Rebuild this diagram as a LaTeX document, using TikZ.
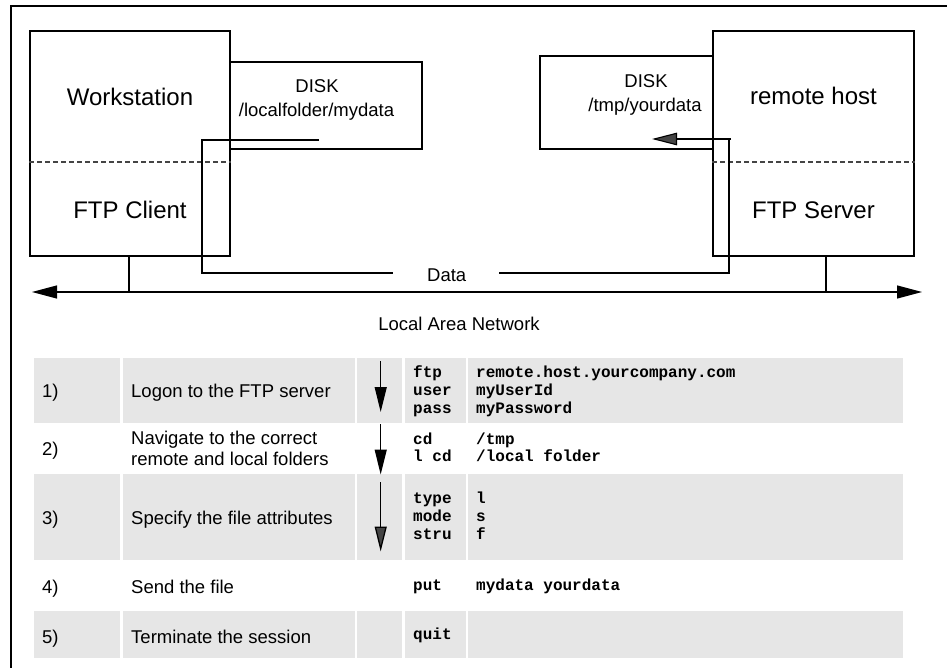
\documentclass[tikz,border=0pt]{standalone}
\usepackage{fontspec}
\setmainfont{Liberation Sans}
\newfontfamily\codefont{Liberation Mono}
\usetikzlibrary{arrows.meta}
\definecolor{cellgray}{HTML}{E6E6E6}
\definecolor{dashgray}{HTML}{444444}
\begin{document}
\begin{tikzpicture}[x=1pt,y=-1pt,
  box/.style={draw, line width=1.3pt, inner sep=0pt},
  big/.style={font=\fontsize{24}{28}\selectfont, inner sep=0pt, anchor=base},
  small/.style={font=\fontsize{18.5}{22}\selectfont, inner sep=0pt, anchor=base},
  lbl/.style={font=\fontsize{18.5}{22}\selectfont, inner sep=0pt, anchor=base west},
  code/.style={font=\codefont\bfseries\fontsize{16}{18}\selectfont, inner sep=0pt, anchor=base west},
  cell/.style={fill=cellgray, draw=none, inner sep=0pt, anchor=north west},
  wire/.style={line width=1.1pt},
  sep/.style={dash pattern=on 5pt off 3pt, line width=1.2pt, draw=dashgray},
  net/.style={line width=1.2pt, {Triangle[length=25pt,width=13pt]}-{Triangle[length=25pt,width=13pt]}},
  stepdown/.style={line width=1.3pt, -{Triangle[length=25pt,width=12pt]}},
]
\fill[white] (0,0) rectangle (947,668);
\useasboundingbox (0,0) rectangle (947,668);

% outer frame (left and top edges)
\coordinate (fbl) at (11,668);
\coordinate (ftl) at (11,6);
\coordinate (ftr) at (947,6);
\draw[line width=1.4pt] (fbl) -- (ftl) -- (ftr);

% table cells
\foreach \yy/\hh/\r in {358/64.5/1, 474/86/3, 611/47/5}{
  \foreach \xx/\ww/\c in {34/86/1, 123/232/2, 357/45/3, 405/61/4, 468/435/5}{
    \node[cell, minimum width=\ww pt, minimum height=\hh pt] (cell\r\c) at (\xx,\yy) {};
  }
}

% workstation / remote boxes
\node[box, minimum width=200pt, minimum height=225pt] (ws) at (130,143.5) {};
\node[box, minimum width=192pt, minimum height=87pt] (ldisk) at (326,105.5) {};
\node[box, minimum width=201pt, minimum height=225pt] (rh) at (813.5,143.5) {};
\node[box, minimum width=173pt, minimum height=93pt] (rdisk) at (626.5,102.5) {};

\draw[sep] (ws.west |- 0,162) coordinate (wsd1) -- (ws.east |- 0,162) coordinate (wsd2);
\draw[sep] (rh.west |- 0,162) coordinate (rhd1) -- (rh.east |- 0,162) coordinate (rhd2);

\node[big] (wstxt) at (130,106) {Workstation};
\node[big] (fctxt) at (130,218.3) {FTP Client};
\node[big] (rhtxt) at (813.5,105) {remote host};
\node[big] (fstxt) at (813.5,218.3) {FTP Server};

\node[small] (ld1) at (317,92.3) {DISK};
\node[small] (ld2) at (316.5,116.7) {/localfolder/mydata};
\node[small] (rd1) at (646,87.3) {DISK};
\node[small] (rd2) at (645,111.7) {/tmp/yourdata};

% network
\coordinate (netL) at (32,292);
\coordinate (netR) at (922,292);
\draw[net] (netL) -- (netR);
\draw[wire] (ws.south -| 129,0) coordinate (wsstem) -- (wsstem |- netL);
\draw[wire] (rh.south -| 826,0) coordinate (rhstem) -- (rhstem |- netR);
\node[small] (lan) at (459,330) {Local Area Network};

% data path
\coordinate (d1) at (319,140);
\coordinate (d2) at (202,140);
\coordinate (d3) at (202,273);
\coordinate (d4) at (393,273);
\draw[wire] (d1) -- (d2) -- (d3) -- (d4);
\node[small, anchor=base west] (datatxt) at (427,281) {Data};
\coordinate (e1) at (499,273);
\coordinate (e2) at (729,273);
\coordinate (e3) at (729,139);
\coordinate (e4) at (731,139);
\coordinate (e5) at (652,139);
\draw[wire] (e1) -- (e2) -- (e3);
\draw[wire, -{Triangle[length=25pt,width=12.5pt,fill=dashgray]}, draw=black] (e4) -- (e5);

% step arrows
\coordinate (a1s) at (380.7,361);
\coordinate (a1e) at (380.7,412);
\coordinate (a2s) at (380.7,424);
\coordinate (a2e) at (380.7,474.5);
\coordinate (a3s) at (380.7,482);
\coordinate (a3e) at (380.7,551.5);
\draw[stepdown] (a1s) -- (a1e);
\draw[stepdown] (a2s) -- (a2e);
\draw[stepdown, -{Triangle[length=25pt,width=12pt,fill=dashgray]}] (a3s) -- (a3e);

% table text
\node[lbl] (n1) at (42,397) {1)};
\node[lbl] (n2) at (42,455) {2)};
\node[lbl] (n3) at (42,524.5) {3)};
\node[lbl] (n4) at (42,593) {4)};
\node[lbl] (n5) at (42,643) {5)};

\node[lbl] (t1) at (131,397) {Logon to the FTP server};
\node[lbl] (t2a) at (131,444) {Navigate to the correct};
\node[lbl] (t2b) at (131,465.7) {remote and local folders};
\node[lbl] (t3) at (131,524.5) {Specify the file attributes};
\node[lbl] (t4) at (131,593) {Send the file};
\node[lbl] (t5) at (131,643) {Terminate the session};

\node[code] (k1a) at (413,377) {ftp};
\node[code] (k1b) at (413,395.5) {user};
\node[code] (k1c) at (413,413.3) {pass};
\node[code] (k2a) at (413,444) {cd};
\node[code] (k2b) at (413,461.7) {l cd};
\node[code] (k3a) at (413,503) {type};
\node[code] (k3b) at (413,521) {mode};
\node[code] (k3c) at (413,539) {stru};
\node[code] (k4) at (413,590) {put};
\node[code] (k5) at (413,639.3) {quit};

\node[code] (v1a) at (476,377) {remote.host.yourcompany.com};
\node[code] (v1b) at (476,395.5) {myUserId};
\node[code] (v1c) at (476,413.3) {myPassword};
\node[code] (v2a) at (476,444) {/tmp};
\node[code] (v2b) at (476,461.7) {/local folder};
\node[code] (v3a) at (476,503) {l};
\node[code] (v3b) at (476,521) {s};
\node[code] (v3c) at (476,539) {f};
\node[code] (v4) at (476,590) {mydata yourdata};
\end{tikzpicture}
\end{document}
